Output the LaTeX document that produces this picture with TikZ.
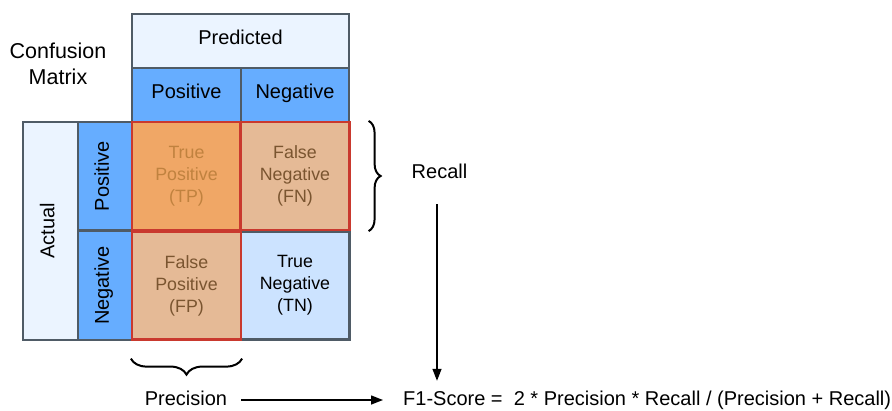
\documentclass[tikz,border=0pt]{standalone}
\usepackage{fontspec}
\setmainfont{Liberation Sans}
\usetikzlibrary{arrows.meta,decorations.pathreplacing,calc}
\definecolor{gridgray}{HTML}{4F5B66}
\definecolor{cellred}{HTML}{C9392E}
\definecolor{paleblue}{HTML}{EBF4FF}
\definecolor{headblue}{HTML}{66ADFF}
\definecolor{tnblue}{HTML}{CCE3FF}
\definecolor{tporange}{HTML}{F0A766}
\definecolor{errtan}{HTML}{E5BA96}
\definecolor{tptext}{HTML}{C0823F}
\definecolor{errtext}{HTML}{7A5530}
\tikzset{
  box/.style={draw=gridgray, line width=2.2pt, inner sep=0pt, align=center,
    font=\fontsize{20}{22}\selectfont},
  head/.style={box, text height=13pt, text depth=6.5pt},
  cell/.style={box, minimum width=109pt, minimum height=108pt,
    font=\fontsize{17.8}{22}\selectfont},
  hotcell/.style={cell, draw=cellred},
  label/.style={inner sep=0pt, font=\fontsize{20}{22}\selectfont,
    text height=14pt, text depth=4pt},
  flow/.style={-{Triangle[length=12pt,width=9pt]}, line width=1.4pt},
  bracket/.style={decorate, line width=2pt,
    decoration={brace, amplitude=#1}},
}
\begin{document}
\begin{tikzpicture}[x=1pt,y=-1pt]
\useasboundingbox (0,0) rectangle (892,410);

% column headers
\node[head, fill=paleblue, minimum width=217pt, minimum height=54pt] (pred) at (240.5,41) {Predicted};
\node[head, fill=headblue, minimum width=109pt, minimum height=54pt] (pcol) at (186.5,95) {Positive};
\node[head, fill=headblue, minimum width=108pt, minimum height=54pt] (ncol) at (295,95) {Negative};

% row headers
\node[box, fill=paleblue, minimum width=55pt, minimum height=218pt] (act) at (50.5,231) {\rotatebox{90}{\hspace{0pt}Actual\rule[-6.5pt]{0pt}{13pt}}};
\node[box, fill=headblue, minimum width=54pt, minimum height=108pt] (prow) at (105,176) {\rotatebox{90}{Positive\rule[-6.5pt]{0pt}{13pt}}};
\node[box, fill=headblue, minimum width=54pt, minimum height=109pt] (nrow) at (105,285.5) {\rotatebox{90}{Negative\rule[-6.5pt]{0pt}{13pt}}};

% matrix cells
\node[cell, fill=tnblue] (tn) at (295,285.5) {True\\Negative\\(TN)};
\node[hotcell, fill=tporange, text=tptext] (tp) at (186.5,176) {True\\Positive\\(TP)};
\node[hotcell, fill=errtan, text=errtext] (fn) at (295,176) {False\\Negative\\(FN)};
\node[hotcell, fill=errtan, text=errtext] (fp) at (186.5,285.5) {False\\Positive\\(FP)};

% title
\node[align=center, inner sep=0pt, font=\fontsize{21.5}{26}\selectfont] (title) at (58,64) {Confusion\\Matrix};

% braces
\coordinate (rb1) at ($(fn.north east)+(18,0)$);
\coordinate (rb2) at ($(fn.south east)+(18,0)$);
\draw[bracket=12pt] (rb1) -- (rb2);
\coordinate (bb1) at ($(fp.south east)+(0,18)$);
\coordinate (bb2) at ($(fp.south west)+(0,18)$);
\draw[bracket=16pt] (bb1) -- (bb2);

% labels
\node[label] (recall) at (439.5,173) {Recall};
\node[label] (prec) at (186,400) {Precision};
\node[label, anchor=west] (f1) at (403,400) {F1-Score =\ \ 2 * Precision * Recall / (Precision + Recall)};

% connectors
\coordinate (rdown) at (437,204);
\coordinate (rtip) at ($(rdown |- f1.north)+(0,-10)$);
\draw[flow] (rdown) -- (rtip);
\draw[flow] ([xshift=14pt]prec.east) -- ([xshift=-20pt]f1.west);
\end{tikzpicture}
\end{document}
